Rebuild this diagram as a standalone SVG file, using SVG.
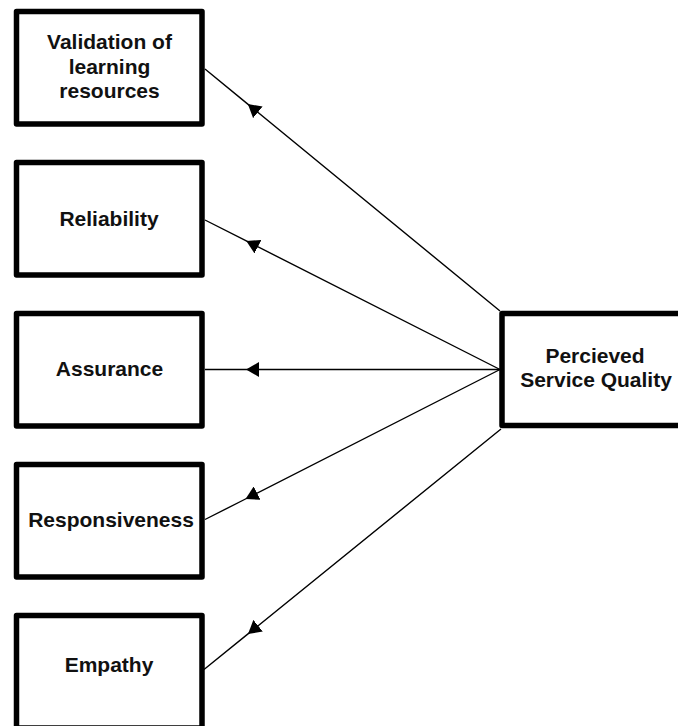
<svg xmlns="http://www.w3.org/2000/svg" width="678" height="726" viewBox="0 0 678 726">
<style>
.box{fill:#fff;stroke:#000;stroke-width:5.5;stroke-linejoin:round}
.lbl{font-family:"Liberation Sans",Arial,sans-serif;font-weight:bold;font-size:21px;fill:#111;text-anchor:middle}
.con{fill:none;stroke:#000;stroke-width:1.4;marker-mid:url(#ah)}
</style>
<defs>
<marker id="ah" markerUnits="userSpaceOnUse" orient="auto" refX="13" refY="7.5" markerWidth="13" markerHeight="15" viewBox="0 0 13 15">
<path d="M0,0 L13,7.5 L0,15 Z" fill="#000"/>
</marker>
</defs>
<rect width="678" height="726" fill="#fff"/>
<g id="connectors">
<path class="con" d="M500,311 L247.8,104.1 L205,69"/>
<path class="con" d="M500,369.5 L246.3,240.9 L205,220"/>
<path class="con" d="M500,369.5 L246,369.5 L205,369.5"/>
<path class="con" d="M500,369.5 L245.5,499 L205,519.5"/>
<path class="con" d="M501,429 L248,633.9 L204,669.5"/>
</g>
<g id="validation">
<rect class="box" x="16.5" y="11.5" width="185.5" height="112.5"/>
<text class="lbl" x="109.5" y="49">Validation of</text>
<text class="lbl" x="109.5" y="73.5">learning</text>
<text class="lbl" x="109.5" y="98">resources</text>
</g>
<g id="reliability">
<rect class="box" x="16.5" y="162.5" width="185.5" height="112.5"/>
<text class="lbl" x="109" y="226">Reliability</text>
</g>
<g id="assurance">
<rect class="box" x="16.5" y="313.5" width="185.5" height="112.5"/>
<text class="lbl" x="109.5" y="376">Assurance</text>
</g>
<g id="responsiveness">
<rect class="box" x="16.5" y="464.5" width="185.5" height="112.5"/>
<text class="lbl" x="111" y="527">Responsiveness</text>
</g>
<g id="empathy">
<rect class="box" x="16.5" y="615.5" width="185.5" height="112.5"/>
<text class="lbl" x="109" y="672">Empathy</text>
</g>
<g id="psq">
<rect class="box" x="502" y="313.5" width="186" height="112"/>
<text class="lbl" x="595" y="362.5">Percieved</text>
<text class="lbl" x="596" y="386.5">Service Quality</text>
</g>
</svg>
